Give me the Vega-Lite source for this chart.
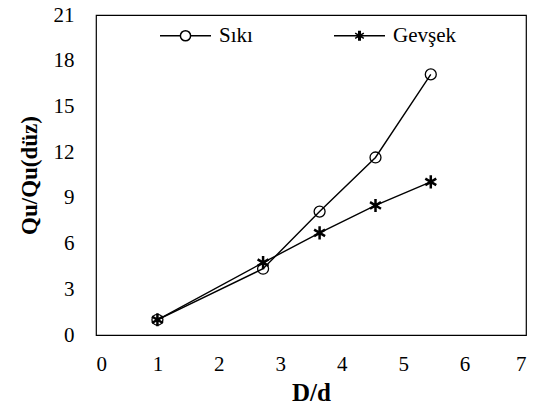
{
  "$schema": "https://vega.github.io/schema/vega-lite/v6.json",
  "width": 430,
  "height": 320,
  "autosize": {"type": "none"},
  "padding": {"left": 96, "top": 15, "right": 11, "bottom": 72},
  "background": "white",
  "config": {
    "font": "Liberation Serif",
    "view": {"stroke": "black", "strokeWidth": 1.2},
    "axis": {
      "grid": false,
      "ticks": false,
      "domain": false,
      "labelFont": "Liberation Serif",
      "labelFontSize": 21,
      "labelColor": "black",
      "titleFont": "Liberation Serif",
      "titleFontSize": 25,
      "titleFontWeight": "bold",
      "titleColor": "black"
    }
  },
  "data": {
    "values": [
      {"series": "Sıkı", "Dd": 1, "ratio": 1.0},
      {"series": "Sıkı", "Dd": 2.72, "ratio": 4.35},
      {"series": "Sıkı", "Dd": 3.64, "ratio": 8.1},
      {"series": "Sıkı", "Dd": 4.55, "ratio": 11.65},
      {"series": "Sıkı", "Dd": 5.45, "ratio": 17.1},
      {"series": "Gevşek", "Dd": 1, "ratio": 1.0},
      {"series": "Gevşek", "Dd": 2.72, "ratio": 4.75},
      {"series": "Gevşek", "Dd": 3.64, "ratio": 6.7},
      {"series": "Gevşek", "Dd": 4.55, "ratio": 8.5},
      {"series": "Gevşek", "Dd": 5.45, "ratio": 10.05}
    ]
  },
  "encoding": {
    "x": {
      "field": "Dd",
      "type": "quantitative",
      "scale": {"domain": [0, 7], "nice": false},
      "axis": {"values": [0, 1, 2, 3, 4, 5, 6, 7], "labelPadding": 18, "title": "D/d", "titlePadding": 6}
    },
    "y": {
      "field": "ratio",
      "type": "quantitative",
      "scale": {"domain": [0, 21], "nice": false},
      "axis": {"values": [0, 3, 6, 9, 12, 15, 18, 21], "labelPadding": 22, "title": "Qu/Qu(düz)", "titleFontSize": 23, "titlePadding": 12}
    }
  },
  "layer": [
    {
      "mark": {"type": "line", "color": "black", "strokeWidth": 1.4},
      "encoding": {"detail": {"field": "series", "type": "nominal"}}
    },
    {
      "mark": {"type": "point", "filled": false, "color": "black", "opacity": 1, "size": 120},
      "encoding": {
        "strokeWidth": {"condition": {"test": "datum.series === 'Gevşek'", "value": 2.5}, "value": 1.3},
        "shape": {
          "field": "series",
          "type": "nominal",
          "scale": {
            "domain": ["Sıkı", "Gevşek"],
            "range": ["circle", "M0,-1.2L0,1.2M-1.0,-0.6L1.0,0.6M-1.0,0.6L1.0,-0.6"]
          },
          "legend": null
        }
      }
    },
    {
      "mark": {"type": "point", "filled": false, "color": "black", "opacity": 1, "size": 0, "strokeWidth": 1.5},
      "encoding": {
        "shape": {
          "field": "series",
          "type": "nominal",
          "scale": {
            "domain": ["Sıkı", "Gevşek"],
            "range": [
              "M-1,0L-0.2,0M0.2,0L1,0M-0.2,0A0.2,0.2 0 1,0 0.2,0A0.2,0.2 0 1,0 -0.2,0",
              "M-1,0L1,0M0,-0.2L0,0.2M-0.17,-0.1L0.17,0.1M-0.17,0.1L0.17,-0.1M0.03,-0.2L0.03,0.2M-0.03,-0.2L-0.03,0.2"
            ]
          },
          "legend": {
            "orient": "none",
            "legendX": 63,
            "legendY": -6,
            "direction": "horizontal",
            "title": null,
            "padding": 0,
            "symbolSize": 2601,
            "symbolStrokeWidth": 1.5,
            "labelOffset": 7,
            "columnPadding": 78,
            "labelFont": "Liberation Serif",
            "labelFontSize": 21,
            "labelColor": "black",
            "symbolStrokeColor": "black",
            "symbolFillColor": "transparent",
            "symbolOpacity": 1
          }
        }
      }
    }
  ],
  "resolve": {"scale": {"shape": "independent"}}
}
